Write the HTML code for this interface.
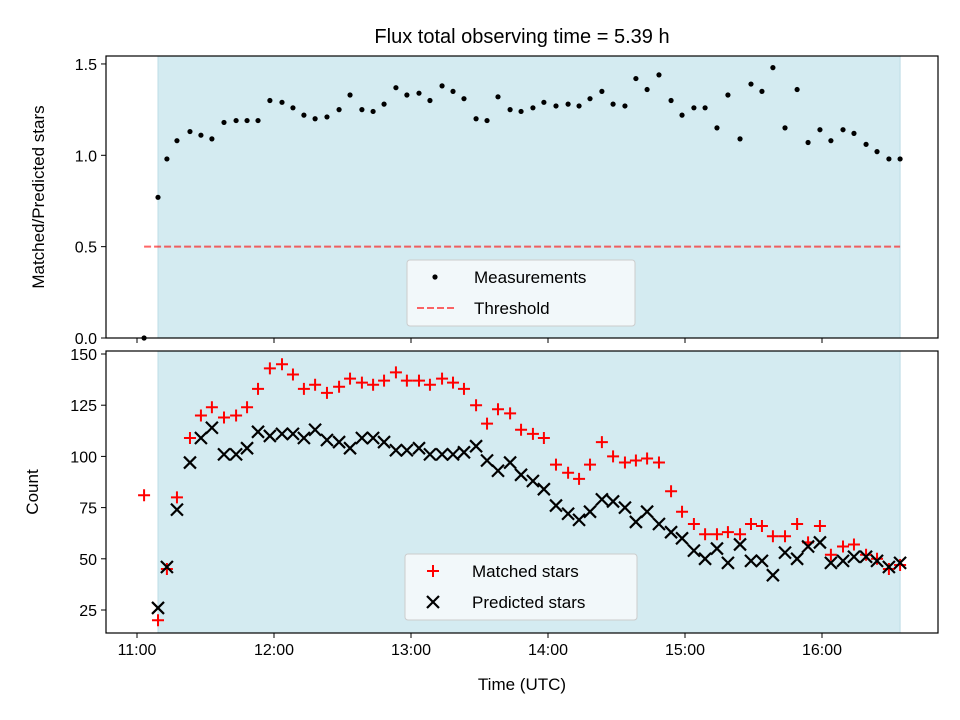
<!DOCTYPE html>
<html><head><meta charset="utf-8"><style>
body{margin:0;background:#fff}
svg{display:block;font-family:"Liberation Sans","DejaVu Sans",sans-serif}
</style></head><body>
<svg id="fig" width="960" height="720" viewBox="0 0 960 720"></svg>
<script>
const minutes=[3.1,9.2,13.1,17.5,23.2,28.0,32.8,38.1,43.4,48.2,53.0,58.2,63.5,68.3,73.1,78.0,83.2,88.5,93.3,98.5,103.4,108.2,113.4,118.2,123.5,128.3,133.6,138.4,143.2,148.5,153.3,158.1,163.4,168.2,173.4,178.2,183.5,188.8,193.6,198.4,203.6,208.5,213.7,218.5,223.4,228.6,233.9,238.7,243.9,248.8,254.0,258.8,264.1,268.9,273.7,278.5,283.8,289.1,293.9,299.1,303.9,309.2,314.0,319.3,324.1,329.3,334.2];
const ratio=[0,0.77,0.98,1.08,1.13,1.11,1.09,1.18,1.19,1.19,1.19,1.30,1.29,1.26,1.22,1.20,1.21,1.25,1.33,1.25,1.24,1.28,1.37,1.33,1.34,1.30,1.38,1.35,1.31,1.20,1.19,1.32,1.25,1.24,1.26,1.29,1.27,1.28,1.27,1.31,1.35,1.28,1.27,1.42,1.36,1.44,1.30,1.22,1.26,1.26,1.15,1.33,1.09,1.39,1.35,1.48,1.15,1.36,1.07,1.14,1.08,1.14,1.12,1.06,1.02,0.98,0.98];
const matched=[81,20,45,80,109,120,124,119,120,124,133,143,145,140,133,135,131,134,138,136,135,137,141,137,137,135,138,136,133,125,116,123,121,113,111,109,96,92,89,96,107,100,97,98,99,97,83,73,67,62,62,63,62,67,66,61,61,67,58,66,52,56,57,52,50,45,47];
const predicted=[null,26,46,74,97,109,114,101,101,104,112,110,111,111,109,113,108,107,104,109,109,107,103,103,104,101,101,101,102,105,98,93,97,91,88,84,76,72,69,73,79,78,75,68,73,67,63,60,54,50,55,48,57,49,49,42,53,50,56,58,48,49,51,51,49,46,48];
const xTicks=["11:00","12:00","13:00","14:00","15:00","16:00"];
const topTicks=["0.0","0.5","1.0","1.5"];
const botTicks=["25","50","75","100","125","150"];
const threshold=0.5, spanStart=9.2, spanEnd=334.2;

const NS="http://www.w3.org/2000/svg", svg=document.getElementById('fig');
function el(t,a,p){const e=document.createElementNS(NS,t);for(const k in a)e.setAttribute(k,a[k]);(p||svg).appendChild(e);return e;}
const L=106,R=938;
const X=m=>137+m*137/60;
const Yt=v=>338-v*182.7;
const Yb=v=>610-(v-25)*2.048;

function axesBox(top,bot,name){
  const g=el('g',{});
  
  
  const s=el('rect',{x:X(spanStart),y:top,width:X(spanEnd)-X(spanStart),height:bot-top,fill:'#d4ebf1',stroke:'#bcdce6','stroke-width':1},g);
  
  
  return g;
}
function frame(top,bot,g){el('rect',{x:L,y:top,width:R-L,height:bot-top,fill:'none',stroke:'#000','stroke-width':1.2},g);}
function xticks(bot,labels,g){
  xTicks.forEach((t,i)=>{const x=X(i*60);el('line',{x1:x,x2:x,y1:bot,y2:bot+5,stroke:'#000'},g);
    if(labels){const tx=el('text',{x:x,y:bot+22,'text-anchor':'middle','font-size':16},g);tx.textContent=t;
    }});
}
// top
const gt=axesBox(56,338,'top-axes');
const thr=el('line',{x1:X(3.1),x2:X(spanEnd),y1:Yt(threshold),y2:Yt(threshold),stroke:'#ff0000','stroke-opacity':0.6,'stroke-width':2,'stroke-dasharray':'7,3'},gt);

ratio.forEach((v,i)=>{const c=el('circle',{cx:X(minutes[i]),cy:Yt(v),r:2.6,fill:'#000'},gt);
  });
frame(56,338,gt);xticks(338,false,gt);
topTicks.forEach(t=>{const y=Yt(+t);el('line',{x1:L-5,x2:L,y1:y,y2:y,stroke:'#000'},gt);
  const tx=el('text',{x:L-9,y:y+6,'text-anchor':'end','font-size':16},gt);tx.textContent=t;});
// bottom
const gb=axesBox(351,633,'bottom-axes');
matched.forEach((v,i)=>{const x=X(minutes[i]),y=Yb(v);const p=el('path',{d:`M${x-6},${y}H${x+6}M${x},${y-6}V${y+6}`,stroke:'#f00','stroke-width':2},gb);
  });
predicted.forEach((v,i)=>{if(v==null)return;const x=X(minutes[i]),y=Yb(v);const p=el('path',{d:`M${x-6},${y-6}L${x+6},${y+6}M${x-6},${y+6}L${x+6},${y-6}`,stroke:'#000','stroke-width':2.2},gb);
  });
frame(351,633,gb);xticks(633,true,gb);
botTicks.forEach(t=>{const y=Yb(+t);el('line',{x1:L-5,x2:L,y1:y,y2:y,stroke:'#000'},gb);
  const tx=el('text',{x:L-9,y:y+6,'text-anchor':'end','font-size':16},gb);tx.textContent=t;});
// legends
function legend(x,y,w,h,items,name){
  const g=el('g',{});
  el('rect',{x,y,width:w,height:h,rx:3,fill:'#f5f9fb','fill-opacity':0.9,stroke:'#ccc'},g);
  items.forEach((it,i)=>{const cy=y+17+i*31;it.draw(g,x+28,cy);const t=el('text',{x:x+67,y:cy+6,'font-size':17},g);t.textContent=it.label;});
}
legend(407,260,228,66,[
 {label:'Measurements',draw:(g,x,y)=>el('circle',{cx:x,cy:y,r:2.6,fill:'#000'},g)},
 {label:'Threshold',draw:(g,x,y)=>el('line',{x1:x-18,x2:x+22,y1:y,y2:y,stroke:'#f00','stroke-opacity':0.6,'stroke-width':2,'stroke-dasharray':'7,3'},g)}],'top-legend');
legend(405,554,232,66,[
 {label:'Matched stars',draw:(g,x,y)=>el('path',{d:`M${x-6},${y}H${x+6}M${x},${y-6}V${y+6}`,stroke:'#f00','stroke-width':2},g)},
 {label:'Predicted stars',draw:(g,x,y)=>el('path',{d:`M${x-6},${y-6}L${x+6},${y+6}M${x-6},${y+6}L${x+6},${y-6}`,stroke:'#000','stroke-width':2.2},g)}],'bottom-legend');
// titles
let t=el('text',{x:522,y:43,'text-anchor':'middle','font-size':20});t.textContent='Flux total observing time = 5.39 h';

t=el('text',{x:522,y:690,'text-anchor':'middle','font-size':17});t.textContent='Time (UTC)';

t=el('text',{x:44,y:197,'text-anchor':'middle','font-size':17,transform:'rotate(-90 44 197)'});t.textContent='Matched/Predicted stars';

t=el('text',{x:38,y:492,'text-anchor':'middle','font-size':17,transform:'rotate(-90 38 492)'});t.textContent='Count';

</script>
</body></html>
